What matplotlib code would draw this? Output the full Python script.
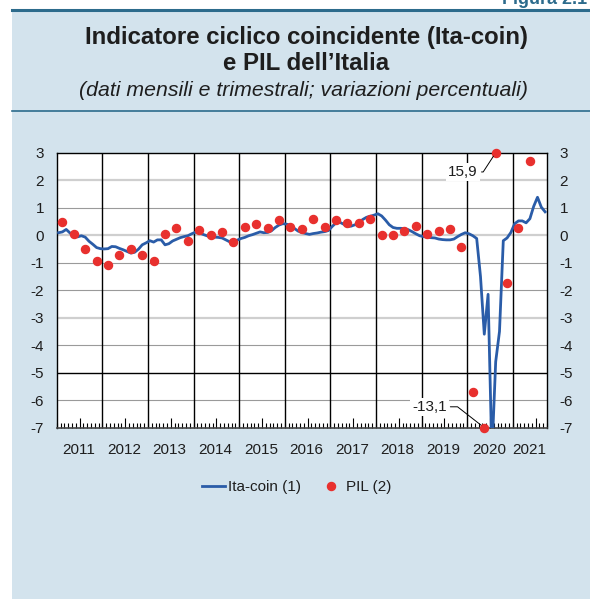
import numpy as np
import matplotlib
matplotlib.use("Agg")
import matplotlib.pyplot as plt
from matplotlib.patches import Rectangle
from matplotlib.lines import Line2D

plt.rcParams['font.family'] = ['Liberation Sans', 'DejaVu Sans']
plt.rcParams['axes.unicode_minus'] = False

# Ita-coin, monthly, Jan 2011 - Sep 2021
ita_coin = [
    0.09, 0.12, 0.21, 0.08, -0.03, -0.06, -0.02, -0.07, -0.22, -0.33, -0.45, -0.49,   # 2011
    -0.50, -0.49, -0.41, -0.42, -0.48, -0.53, -0.59, -0.65, -0.62, -0.51, -0.35, -0.28,  # 2012
    -0.20, -0.25, -0.17, -0.17, -0.35, -0.31, -0.21, -0.15, -0.09, -0.05, -0.02, 0.05,  # 2013
    0.11, 0.08, 0.03, -0.02, -0.05, -0.07, -0.08, -0.10, -0.17, -0.24, -0.24, -0.18,   # 2014
    -0.12, -0.08, -0.02, 0.02, 0.07, 0.12, 0.09, 0.10, 0.16, 0.28, 0.37, 0.42,         # 2015
    0.40, 0.36, 0.25, 0.15, 0.10, 0.06, 0.03, 0.06, 0.08, 0.11, 0.13, 0.17,            # 2016
    0.32, 0.45, 0.47, 0.40, 0.32, 0.33, 0.38, 0.45, 0.57, 0.65, 0.69, 0.73,            # 2017
    0.78, 0.70, 0.55, 0.38, 0.28, 0.25, 0.25, 0.24, 0.20, 0.13, 0.05, -0.02,           # 2018
    -0.05, -0.07, -0.09, -0.10, -0.14, -0.16, -0.17, -0.17, -0.14, -0.05, 0.03, 0.09,  # 2019
    0.05, -0.02, -0.12, -1.50, -3.60, -2.15, -8.00, -4.60, -3.50, -0.20, -0.10, 0.10,  # 2020
    0.42, 0.52, 0.52, 0.45, 0.60, 1.05, 1.38, 1.02, 0.85,                               # 2021
]

# PIL, quarterly (Q1 2011 - Q2 2021), plotted at the middle month of the quarter
pil = [
    0.49, 0.06, -0.50, -0.94,
    -1.08, -0.72, -0.49, -0.73,
    -0.93, 0.03, 0.25, -0.20,
    0.19, 0.00, 0.13, -0.26,
    0.30, 0.41, 0.27, 0.56,
    0.30, 0.22, 0.59, 0.31,
    0.56, 0.43, 0.43, 0.58,
    0.00, 0.01, 0.14, 0.33,
    0.03, 0.16, 0.24, -0.43,
    -5.69, -13.1, 15.9, -1.73,
    0.25, 2.71,
]

years = [str(y) for y in range(2011, 2022)]
yticks = list(range(-7, 4))

BG = '#d3e3ed'
TEAL = '#2c6b8c'
BLUE = '#2a5ca8'
RED = '#e8302e'
INK = '#1e1e1e'

fig = plt.figure(figsize=(5.9, 5.99), dpi=100)
fig.patch.set_facecolor('white')
fig.add_artist(Rectangle((12 / 590, 0), 1 - 12 / 590, 1 - 10 / 599,
                         transform=fig.transFigure, facecolor=BG,
                         edgecolor='none', zorder=0))
fig.add_artist(Line2D([12 / 590, 1], [1 - 10 / 599] * 2, color=TEAL, lw=2.2))
fig.add_artist(Line2D([12 / 590, 1], [1 - 111 / 599] * 2, color=TEAL, lw=1.2))

fig.text(0.995, 1 - 4 / 599, 'Figura 2.1', ha='right', va='baseline',
         fontsize=13, fontweight='bold', color=TEAL)
fig.text(0.519, 1 - 44 / 599, 'Indicatore ciclico coincidente (Ita-coin)',
         ha='center', va='baseline', fontsize=17.3, fontweight='bold', color=INK)
fig.text(0.519, 1 - 70 / 599, 'e PIL dell\u2019Italia',
         ha='center', va='baseline', fontsize=17.3, fontweight='bold', color=INK)
fig.text(0.515, 1 - 96 / 599, '(dati mensili e trimestrali; variazioni percentuali)',
         ha='center', va='baseline', fontsize=15.3, style='italic', color=INK)

ax = fig.add_axes([56.7 / 590, 1 - 427.7 / 599, 490.3 / 590, 275 / 599])
ax.set_facecolor('white')

x_m = np.arange(len(ita_coin))
x_q = 1 + 3 * np.arange(len(pil))

ax.set_xlim(-0.5, len(ita_coin) - 0.5)
ax.set_ylim(-7, 3)

# horizontal grid
light = {2, 0, -3}
for v in yticks[1:-1]:
    if v == -5:
        ax.axhline(v, color='black', lw=1.0, zorder=1)
    elif v in light:
        ax.axhline(v, color='#cfcfcf', lw=1.6, zorder=1)
    else:
        ax.axhline(v, color='#9a9a9a', lw=0.8, zorder=1)

# year separators
for k in range(1, len(years)):
    ax.axvline(12 * k - 0.5, color='black', lw=1.0, zorder=1)

ax.plot(x_m, ita_coin, color=BLUE, lw=2.0, zorder=3, solid_joinstyle='round')
ax.plot(x_q, np.clip(pil, -7, 3), ls='none', marker='o', ms=5.8,
        color=RED, zorder=4, clip_on=False)

# annotations for off-scale values
ax.annotate('15,9', xy=(x_q[38], 3), xytext=(110.3, 2.3), ha='right', va='center',
            fontsize=11, color=INK,
            bbox=dict(boxstyle='square,pad=0.15', fc='white', ec='none'),
            arrowprops=dict(arrowstyle='-', color='black', lw=0.7, shrinkA=1, shrinkB=3,
                            connectionstyle='angle,angleA=0,angleB=57,rad=0'), zorder=5)
ax.annotate('-13,1', xy=(x_q[37], -7), xytext=(102.1, -6.24), ha='right', va='center',
            fontsize=11, color=INK,
            bbox=dict(boxstyle='square,pad=0.15', fc='white', ec='none'),
            arrowprops=dict(arrowstyle='-', color='black', lw=0.7, shrinkA=1, shrinkB=3,
                            connectionstyle='angle,angleA=0,angleB=-38,rad=0'), zorder=5)

# y axis labels on both sides
ax.set_yticks(yticks)
ax.tick_params(axis='y', length=0, labelsize=11, pad=9, labelcolor=INK,
               labelleft=True, labelright=True)

# x ticks: monthly minor, taller mid-year
ax.set_xticks(np.arange(5.5, len(ita_coin), 12))
ax.set_xticks(np.arange(-0.5, len(ita_coin), 1), minor=True)
ax.tick_params(axis='x', which='major', direction='in', length=7, width=0.8,
               labelbottom=False)
ax.tick_params(axis='x', which='minor', direction='in', length=3.5, width=0.8)

for i, yr in enumerate(years):
    start = 12 * i - 0.5
    end = min(12 * (i + 1) - 0.5, len(ita_coin) - 0.5)
    ax.text((start + end) / 2 - 0.3, -0.08, yr, transform=ax.get_xaxis_transform(),
            ha='center', va='center', fontsize=11, color=INK)

for s in ['left', 'right', 'top']:
    ax.spines[s].set_color('black')
    ax.spines[s].set_linewidth(1.0)
ax.spines['bottom'].set_color('#444444')
ax.spines['bottom'].set_linewidth(1.2)

handles = [Line2D([], [], color=BLUE, lw=2),
           Line2D([], [], ls='none', marker='o', ms=5.8, color=RED)]
leg = fig.legend(handles, ['Ita-coin (1)', 'PIL (2)'], loc='center',
                 bbox_to_anchor=(0.503, 1 - 487 / 599), ncol=2, frameon=False,
                 fontsize=11, handlelength=1.5, handletextpad=0.2, columnspacing=1.2)
for t in leg.get_texts():
    t.set_color(INK)

fig.savefig('out.png', dpi=100)
